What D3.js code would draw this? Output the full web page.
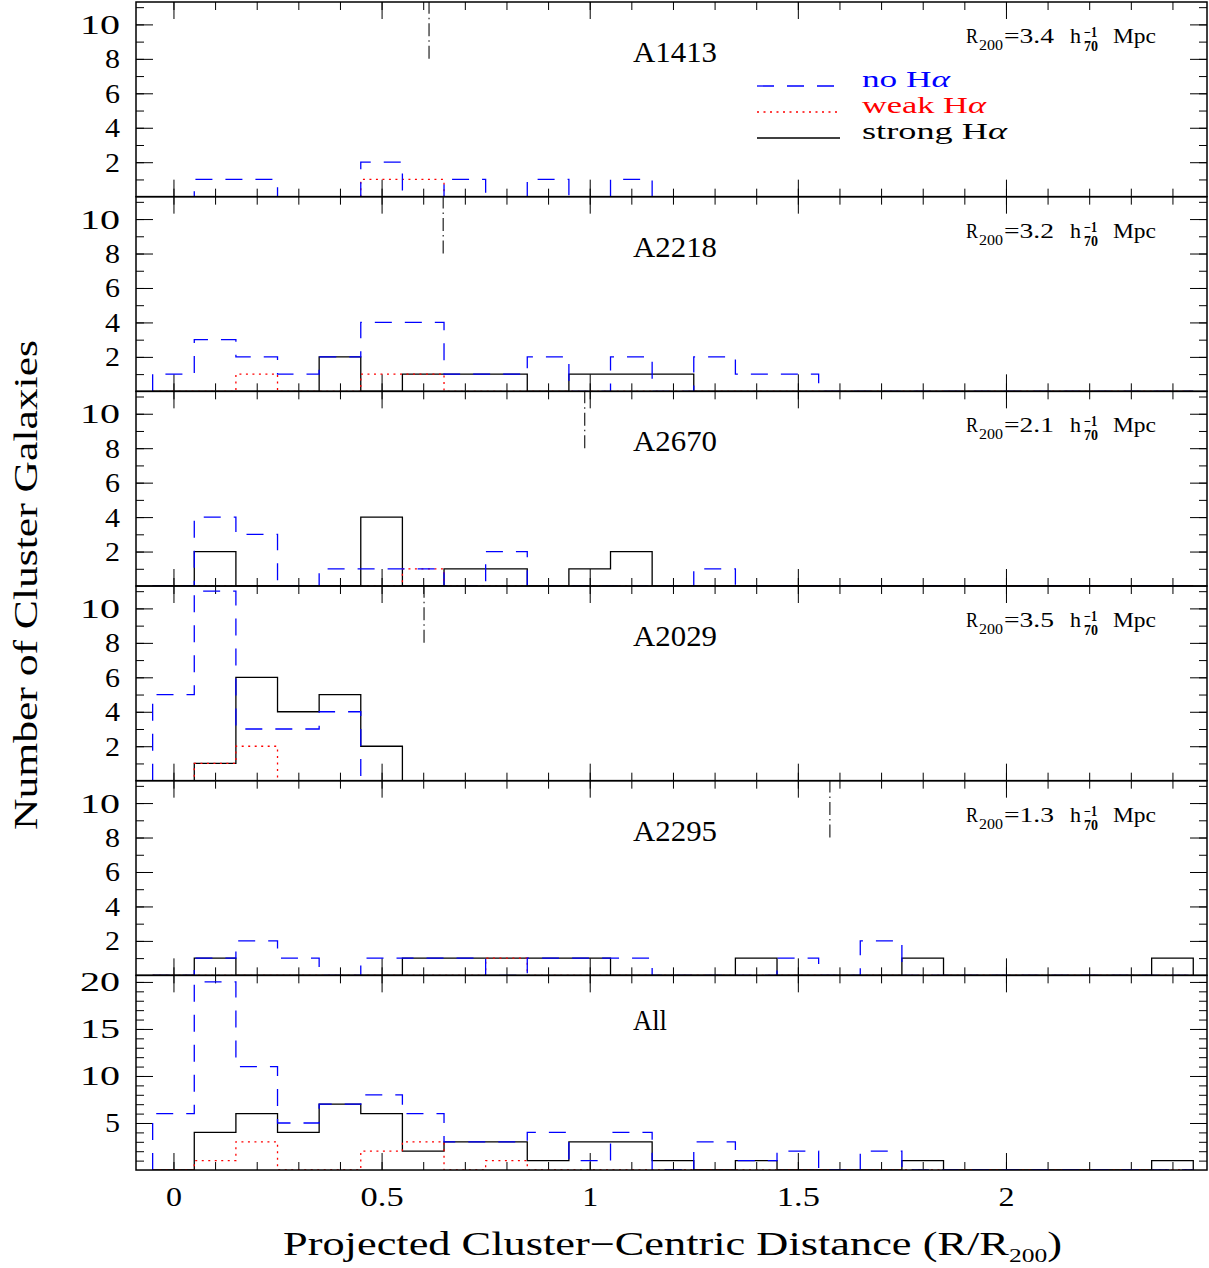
<!DOCTYPE html>
<html>
<head>
<meta charset="utf-8">
<script src="https://cdn.jsdelivr.net/npm/d3@7"></script>
<style>
  body { margin: 0; background: #fff; }
  text { font-family: "Liberation Serif", serif; fill: #000; }
</style>
</head>
<body>
<div id="chart"></div>
<script>
// histogram bins: centres in R/R200, width 0.1
const binCenters = [0, 0.1, 0.2, 0.3, 0.4, 0.5, 0.6, 0.7, 0.8, 0.9, 1.0, 1.1, 1.2,
                    1.3, 1.4, 1.5, 1.6, 1.7, 1.8, 1.9, 2.0, 2.1, 2.2, 2.3, 2.4]
const binWidth = 0.1

const clusterNames = ['A1413', 'A2218', 'A2670', 'A2029', 'A2295', 'All']
const r200Values = ['3.4', '3.2', '2.1', '3.5', '1.3']
// edge of the observed field, R/R200 (dash-dot marker)
const fieldEdge = [0.614, 0.648, 0.988, 0.602, 1.577]

const noA1413     = [0,1,1,0,0,2,0,1,0,1,0,1,0,0,0,0,0,0,0,0,0,0,0,0,0]
const weakA1413   = [0,0,0,0,0,1,1,0,0,0,0,0,0,0,0,0,0,0,0,0,0,0,0,0,0]
const strongA1413 = [0,0,0,0,0,0,0,0,0,0,0,0,0,0,0,0,0,0,0,0,0,0,0,0,0]

const noA2218     = [1,3,2,1,2,4,4,1,1,2,0,2,0,2,1,1,0,0,0,0,0,0,0,0,0]
const weakA2218   = [0,0,1,0,0,1,1,0,0,0,0,0,0,0,0,0,0,0,0,0,0,0,0,0,0]
const strongA2218 = [0,0,0,0,2,0,1,1,1,0,1,1,1,0,0,0,0,0,0,0,0,0,0,0,0]

const noA2670     = [0,4,3,0,1,1,1,0,2,0,0,0,0,1,0,0,0,0,0,0,0,0,0,0,0]
const weakA2670   = [0,0,0,0,0,0,1,0,0,0,0,0,0,0,0,0,0,0,0,0,0,0,0,0,0]
const strongA2670 = [0,2,0,0,0,4,0,1,1,0,1,2,0,0,0,0,0,0,0,0,0,0,0,0,0]

const noA2029     = [5,11,3,3,4,0,0,0,0,0,0,0,0,0,0,0,0,0,0,0,0,0,0,0,0]
const weakA2029   = [0,1,2,0,0,0,0,0,0,0,0,0,0,0,0,0,0,0,0,0,0,0,0,0,0]
const strongA2029 = [0,1,6,4,5,2,0,0,0,0,0,0,0,0,0,0,0,0,0,0,0,0,0,0,0]

const noA2295     = [0,1,2,1,0,1,1,1,0,1,1,1,0,0,0,1,0,2,0,0,0,0,0,0,0]
const weakA2295   = [0,0,0,0,0,0,0,0,1,0,0,0,0,0,0,0,0,0,0,0,0,0,0,0,0]
const strongA2295 = [0,1,0,0,0,0,1,1,1,1,1,0,0,0,1,0,0,0,1,0,0,0,0,0,1]

const noAll       = [6,20,11,5,7,8,6,3,3,4,1,4,0,3,1,2,0,2,0,0,0,0,0,0,0]
const weakAll     = [0,1,3,0,0,2,3,0,1,0,0,0,0,0,0,0,0,0,0,0,0,0,0,0,0]
const strongAll   = [0,4,6,4,7,6,2,3,3,1,3,3,1,0,1,0,0,0,1,0,0,0,0,0,1]

const xTickLabels = ['0', '0.5', '1', '1.5', '2']

const panels = [
  {name: clusterNames[0], r200: r200Values[0], edge: fieldEdge[0], no: noA1413, weak: weakA1413, strong: strongA1413, yMax: 11.3, major: [2,4,6,8,10], minor: d3.range(1, 12)},
  {name: clusterNames[1], r200: r200Values[1], edge: fieldEdge[1], no: noA2218, weak: weakA2218, strong: strongA2218, yMax: 11.3, major: [2,4,6,8,10], minor: d3.range(1, 12)},
  {name: clusterNames[2], r200: r200Values[2], edge: fieldEdge[2], no: noA2670, weak: weakA2670, strong: strongA2670, yMax: 11.3, major: [2,4,6,8,10], minor: d3.range(1, 12)},
  {name: clusterNames[3], r200: r200Values[3], edge: fieldEdge[3], no: noA2029, weak: weakA2029, strong: strongA2029, yMax: 11.3, major: [2,4,6,8,10], minor: d3.range(1, 12)},
  {name: clusterNames[4], r200: r200Values[4], edge: fieldEdge[4], no: noA2295, weak: weakA2295, strong: strongA2295, yMax: 11.3, major: [2,4,6,8,10], minor: d3.range(1, 12)},
  {name: clusterNames[5], r200: null, edge: null, no: noAll, weak: weakAll, strong: strongAll, yMax: 20.7, major: [5,10,15,20], minor: d3.range(1, 21)}
]

const left = 136, right = 1207, top0 = 2
const panelH = 194.67

const styles = {
  no:     {stroke: '#0000ff', dash: '17,13'},
  weak:   {stroke: '#ff0000', dash: '2,4.5'},
  strong: {stroke: '#000000', dash: null}
}

const x = d3.scaleLinear().domain([-0.09, 2.483]).range([left, right])

const svg = d3.select('#chart').append('svg')
  .attr('width', 1209).attr('height', 1268)

const line = d3.line()
  .curve(d3.curveStepAfter)

function stepPoints(vals, y) {
  let pts = [[x(binCenters[0] - binWidth / 2), y(0)]]
  vals.forEach((v, k) => pts.push([x(binCenters[k] - binWidth / 2), y(v)]))
  pts.push([x(binCenters[vals.length - 1] + binWidth / 2), y(0)])
  return pts
}

function cleanAxis(sel) {
  sel.select('.domain').remove()
  sel.selectAll('.tick line').attr('stroke', '#000').attr('stroke-width', 1)
}

// stretch tick labels the way the old plotting font looks
function styleTickText(sel, widths) {
  sel.selectAll('text')
    .attr('font-size', 28)
    .attr('font-family', '"Liberation Serif", serif')
    .attr('fill', '#000')
    .each(function() {
      const s = d3.select(this).text()
      if (widths[s.length]) {
        d3.select(this).attr('textLength', widths[s.length]).attr('lengthAdjust', 'spacingAndGlyphs')
      }
    })
}

const xMajor = [0, 0.5, 1, 1.5, 2]
const xMinor = d3.range(0, 25).map(i => i / 10)

panels.forEach((p, i) => {
  const top = top0 + i * panelH
  const last = i === panels.length - 1
  const g = svg.append('g').attr('transform', `translate(0,${top})`)
  const y = d3.scaleLinear().domain([0, p.yMax]).range([panelH, 0])

  g.append('clipPath').attr('id', 'clip' + i)
    .append('rect').attr('x', left).attr('y', 0).attr('width', right - left).attr('height', panelH)

  // x ticks, bottom and top, pointing inwards
  g.append('g').attr('transform', `translate(0,${panelH})`)
    .call(d3.axisBottom(x).tickValues(xMinor).tickSize(-8).tickFormat(''))
    .call(cleanAxis)
  const xb = g.append('g').attr('transform', `translate(0,${panelH})`)
    .call(d3.axisBottom(x).tickValues(xMajor).tickSize(-17).tickPadding(16)
      .tickFormat((d, k) => last ? xTickLabels[k] : ''))
    .call(cleanAxis)
  styleTickText(xb, {1: 16, 3: 43})
  g.append('g')
    .call(d3.axisTop(x).tickValues(xMinor).tickSize(-8).tickFormat(''))
    .call(cleanAxis)
  g.append('g')
    .call(d3.axisTop(x).tickValues(xMajor).tickSize(-17).tickFormat(''))
    .call(cleanAxis)

  // y ticks, left and right
  g.append('g').attr('transform', `translate(${left},0)`)
    .call(d3.axisLeft(y).tickValues(p.minor).tickSize(-8).tickFormat(''))
    .call(cleanAxis)
  const yl = g.append('g').attr('transform', `translate(${left},0)`)
    .call(d3.axisLeft(y).tickValues(p.major).tickSize(-17).tickPadding(16).tickFormat(d3.format('d')))
    .call(cleanAxis)
  styleTickText(yl, {1: 15, 2: 40})
  g.append('g').attr('transform', `translate(${right},0)`)
    .call(d3.axisRight(y).tickValues(p.minor).tickSize(-8).tickFormat(''))
    .call(cleanAxis)
  g.append('g').attr('transform', `translate(${right},0)`)
    .call(d3.axisRight(y).tickValues(p.major).tickSize(-17).tickFormat(''))
    .call(cleanAxis)

  // histograms
  const hist = g.append('g').attr('clip-path', `url(#clip${i})`)
  ;['strong', 'weak', 'no'].forEach(key => {
    hist.append('path')
      .attr('d', line(stepPoints(p[key], y)))
      .attr('fill', 'none')
      .attr('stroke', styles[key].stroke)
      .attr('stroke-width', 1.3)
      .attr('stroke-dasharray', styles[key].dash)
  })

  // field edge marker
  if (p.edge !== null) {
    g.append('line')
      .attr('x1', x(p.edge)).attr('x2', x(p.edge))
      .attr('y1', y(8)).attr('y2', 0)
      .attr('stroke', '#222').attr('stroke-width', 1.2)
      .attr('stroke-dasharray', '13,4,1.5,4')
  }

  // frame
  g.append('rect')
    .attr('x', left).attr('y', 0).attr('width', right - left).attr('height', panelH)
    .attr('fill', 'none').attr('stroke', '#000').attr('stroke-width', 1.5)

  // cluster name
  g.append('text').attr('x', 633).attr('y', p.name === 'All' ? 55 : 60).attr('font-size', 29)
    .attr('textLength', p.name === 'All' ? 34 : 84).attr('lengthAdjust', 'spacingAndGlyphs')
    .text(p.name)

  // R200 label
  if (p.r200 !== null) {
    const t = g.append('g').attr('transform', 'translate(966,41)').attr('font-size', 22)
    t.append('text').attr('x', 0).attr('textLength', 12).attr('lengthAdjust', 'spacingAndGlyphs').text('R')
    t.append('text').attr('x', 13).attr('y', 7).attr('font-size', 14)
      .attr('textLength', 24).attr('lengthAdjust', 'spacingAndGlyphs').text('200')
    t.append('text').attr('x', 38).attr('textLength', 50).attr('lengthAdjust', 'spacingAndGlyphs').text('=' + p.r200)
    t.append('text').attr('x', 104).attr('textLength', 11).attr('lengthAdjust', 'spacingAndGlyphs').text('h')
    t.append('text').attr('x', 118).attr('y', -6).attr('font-size', 14).attr('font-weight', 'bold')
      .attr('textLength', 13).attr('lengthAdjust', 'spacingAndGlyphs').text('−1')
    t.append('text').attr('x', 118).attr('y', 8).attr('font-size', 14).attr('font-weight', 'bold')
      .attr('textLength', 14).attr('lengthAdjust', 'spacingAndGlyphs').text('70')
    t.append('text').attr('x', 147).attr('textLength', 43).attr('lengthAdjust', 'spacingAndGlyphs').text('Mpc')
  }

  // legend in the first panel
  if (i === 0) {
    const legend = [
      {key: 'no', label: 'no H', width: 88, y: 84},
      {key: 'weak', label: 'weak H', width: 124, y: 110},
      {key: 'strong', label: 'strong H', width: 145, y: 136}
    ]
    legend.forEach(l => {
      g.append('line').attr('x1', 757).attr('x2', 840).attr('y1', l.y).attr('y2', l.y)
        .attr('stroke', styles[l.key].stroke).attr('stroke-width', 1.3)
        .attr('stroke-dasharray', styles[l.key].dash)
      const tx = g.append('text').attr('x', 862).attr('y', l.y + 1).attr('font-size', 24)
        .attr('textLength', l.width).attr('lengthAdjust', 'spacingAndGlyphs')
        .style('fill', styles[l.key].stroke)
      tx.append('tspan').text(l.label)
      tx.append('tspan').attr('font-style', 'italic').text('α')
    })
  }
})

// axis titles
const xt = svg.append('text').attr('x', 283).attr('y', 1255).attr('font-size', 33)
  .attr('textLength', 779).attr('lengthAdjust', 'spacingAndGlyphs')
xt.append('tspan').text('Projected Cluster−Centric Distance (R/R')
xt.append('tspan').attr('font-size', 19).attr('dy', 7).text('200')
xt.append('tspan').attr('dy', -7).text(')')

svg.append('text')
  .attr('transform', 'translate(37,585) rotate(-90)')
  .attr('text-anchor', 'middle').attr('font-size', 33)
  .attr('textLength', 490).attr('lengthAdjust', 'spacingAndGlyphs')
  .text('Number of Cluster Galaxies')
</script>
</body>
</html>
